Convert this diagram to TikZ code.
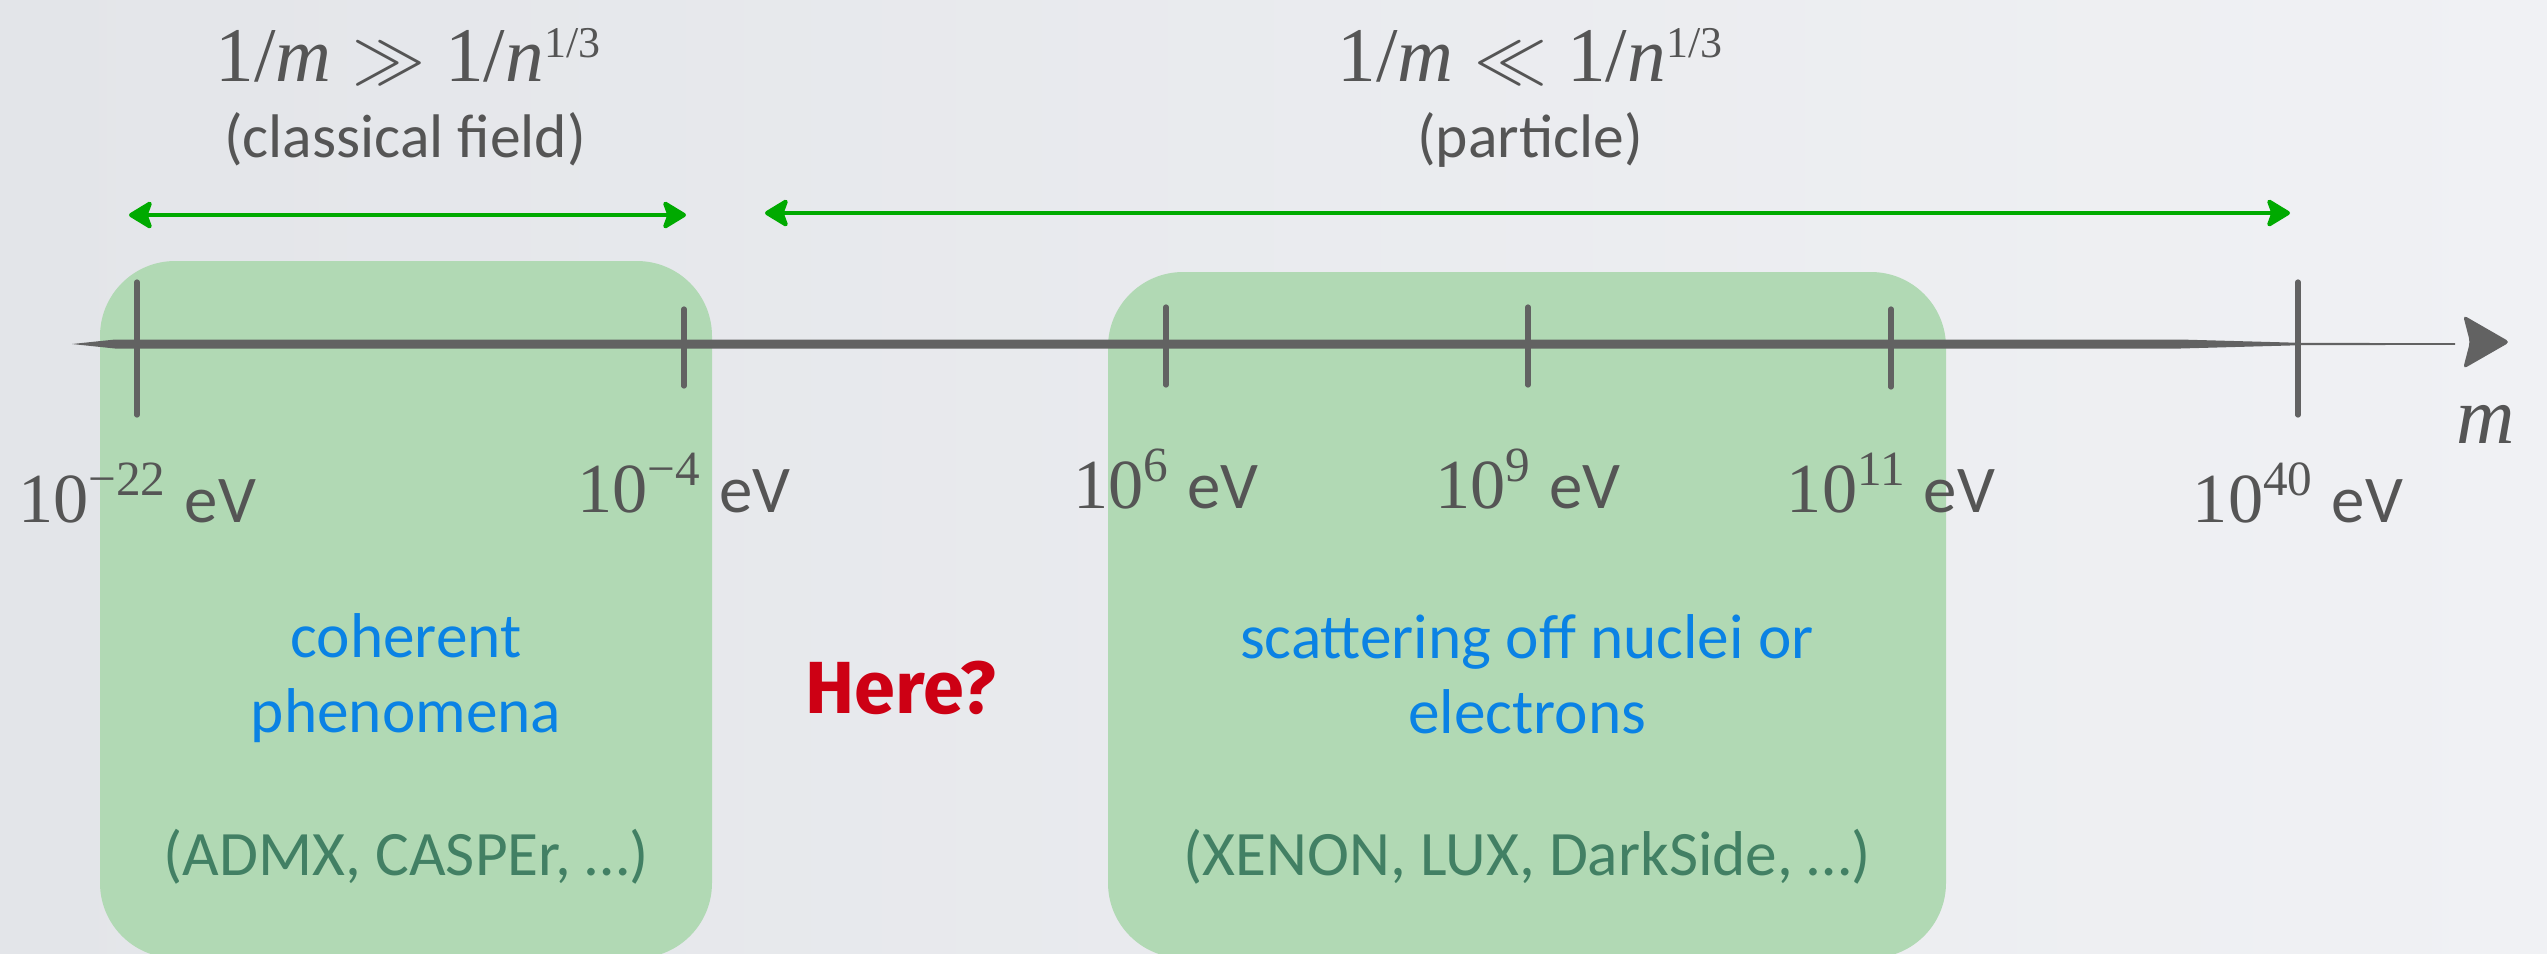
\documentclass[tikz,border=0pt]{standalone}
\usepackage{fontspec}
\setmainfont{Liberation Serif}
\newfontfamily\gillfont{Carlito}
\newfontfamily\markerfont{Fira Sans}
\usetikzlibrary{arrows.meta,positioning}

\definecolor{bgleft}{RGB}{227,229,233}
\definecolor{bgright}{RGB}{240,241,244}
\definecolor{boxgreen}{RGB}{177,217,180}
\definecolor{axisgrey}{RGB}{98,98,98}
\definecolor{textgrey}{RGB}{85,85,85}
\definecolor{arrowgreen}{RGB}{0,170,0}
\definecolor{phenblue}{RGB}{10,130,228}
\definecolor{expteal}{RGB}{66,128,100}
\definecolor{markred}{RGB}{205,0,20}

\newcommand{\evfont}{\gillfont\fontsize{19}{22}\selectfont}
\newcommand{\thirdpow}{\raisebox{6.8pt}{\fontsize{12.5}{14}\selectfont 1/3}}

\tikzset{
  masstick/.style={axisgrey, line width=1.5pt, line cap=round},
  vallabel/.style={anchor=base, inner sep=0pt, textgrey, font=\fontsize{20}{24}\selectfont},
  regime/.style={arrowgreen, line width=1.2pt,
    {Stealth[length=7.5pt,width=9pt,inset=1.6pt,round]}-{Stealth[length=7.5pt,width=9pt,inset=1.6pt,round]}},
  headmath/.style={anchor=base, inner sep=0pt, textgrey, font=\fontsize{22}{26}\selectfont},
  headtext/.style={anchor=base, inner sep=0pt, textgrey, font=\gillfont\fontsize{17.5}{20}\selectfont},
  phenom/.style={anchor=base, inner sep=0pt, phenblue, font=\gillfont\fontsize{18}{21}\selectfont},
  expts/.style={anchor=base, inner sep=0pt, expteal, font=\gillfont\fontsize{18}{21}\selectfont},
  here/.style={anchor=base, inner sep=0pt, markred, font=\markerfont\bfseries\fontsize{21}{24}\selectfont}
}

\begin{document}
\begin{tikzpicture}[x=0.01cm, y=-0.01cm]

    % Background
    \useasboundingbox (0,0) rectangle (2547,953);
    \shade[left color=bgleft, right color=bgright] (0,0) rectangle (2547,953);

    % Regions
    \fill[boxgreen, rounded corners=0.75cm] (100,261) rectangle (712,958);
    \fill[boxgreen, rounded corners=0.75cm] (1108,272) rectangle (1946,958);

    % Mass axis
    \fill[axisgrey] (72,344) -- (115,339.5) -- (2180,339.5) -- (2300,342.8) -- (2455,343.2)
        -- (2455,344.8) -- (2300,345.2) -- (2180,348.5) -- (115,348.5) -- cycle;
    \fill[axisgrey, rounded corners=1.2pt] (2463,315) -- (2510,342) -- (2463,369) -- (2470,342) -- cycle;
    \node[anchor=base, inner sep=0pt, textgrey, font=\fontsize{23}{27}\selectfont] (mlabel) at (2486,443) {\textit{m}};

    % Ticks and mass values
    \foreach \name/\x/\ya/\yb/\yl/\ex in {a/137/282/415/522/−22, b/684/309/386/512/−4,
        c/1166/307/385/508/6, d/1528/307/385/508/9, e/1891/309/387/512/11, f/2298/282/415/522/40}
    {
        \draw[masstick] (\x,\ya) -- (\x,\yb);
        \node[vallabel] (val\name) at (\x,\yl) {10\textsuperscript{\ex} {\evfont eV}};
    }

    % Classical field regime
    \coordinate (clL) at (129,215);
    \coordinate (clR) at (686,215);
    \draw[regime] (clL) -- (clR);
    \node[headmath] (clmath) at (408,81) {1/\textit{m}$\;\gg\;$1/\textit{n}\thirdpow};
    \node[headtext] (cltext) at (405,157) {(classical field)};

    % Particle regime
    \coordinate (ptL) at (765,213);
    \coordinate (ptR) at (2290,213);
    \draw[regime] (ptL) -- (ptR);
    \node[headmath] (ptmath) at (1530,81) {1/\textit{m}$\;\ll\;$1/\textit{n}\thirdpow};
    \node[headtext] (pttext) at (1530,157) {(particle)};

    % Coherent phenomena
    \node[phenom] (coh1) at (406,657) {coherent};
    \node[phenom] (coh2) at (406,732) {phenomena};
    \node[expts] (cohx) at (406,875) {(ADMX, CASPEr, …)};

    % Scattering
    \node[phenom] (sca1) at (1527,658) {scattering off nuclei or};
    \node[phenom] (sca2) at (1527,733) {electrons};
    \node[expts] (scax) at (1527,875) {(XENON, LUX, DarkSide, …)};

    % Gap
    \node[here] (here) at (901,713) {Here?};

\end{tikzpicture}
\end{document}
